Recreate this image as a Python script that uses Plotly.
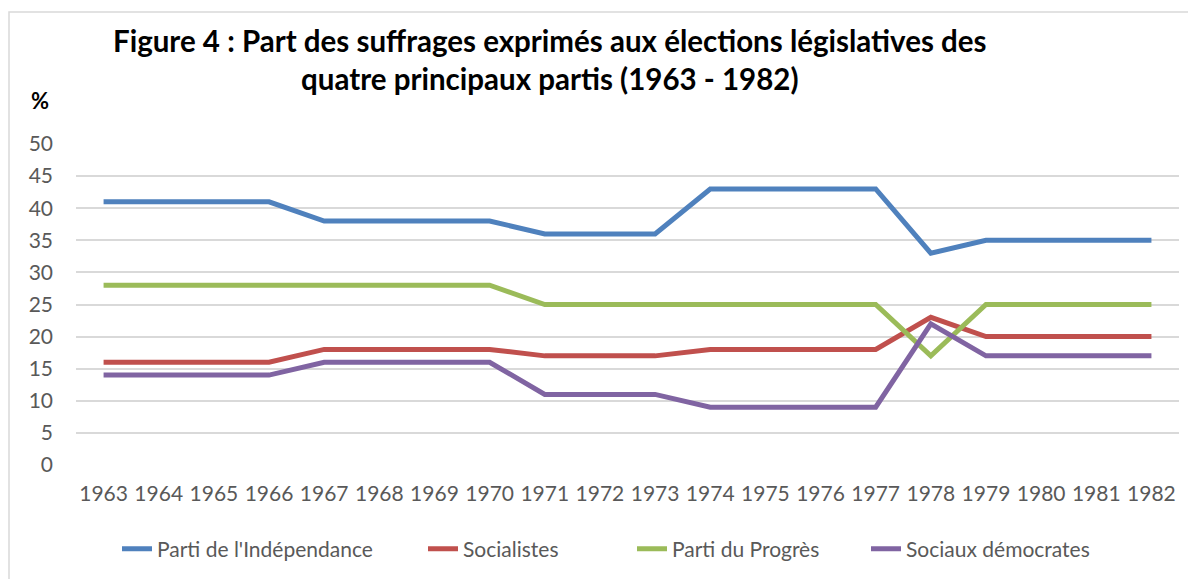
import plotly.graph_objects as go

years = [str(y) for y in range(1963, 1983)]
independance = [41, 41, 41, 41, 38, 38, 38, 38, 36, 36, 36, 43, 43, 43, 43, 33, 35, 35, 35, 35]
socialistes = [16, 16, 16, 16, 18, 18, 18, 18, 17, 17, 17, 18, 18, 18, 18, 23, 20, 20, 20, 20]
progres = [28, 28, 28, 28, 28, 28, 28, 28, 25, 25, 25, 25, 25, 25, 25, 17, 25, 25, 25, 25]
sociaux_dem = [14, 14, 14, 14, 16, 16, 16, 16, 11, 11, 11, 9, 9, 9, 9, 22, 17, 17, 17, 17]

series_names = ["Parti de l'Indépendance", "Socialistes", "Parti du Progrès", "Sociaux démocrates"]
series_values = [independance, socialistes, progres, sociaux_dem]
colors = ["#4F81BD", "#C0504D", "#9BBB59", "#8064A2"]
legend_left_px = [117, 423, 632, 866]

# page body has an 8px default margin: work in screen pixels, convert to figure pixels
OFF = 8
W, H = 1196 - OFF, 579 - OFF
# plot area in screen pixels: x 76..1179, y 144..465
PX0, PX1, PY0, PY1 = 76, 1179, 144, 465
L, T = PX0 - OFF, PY0 - OFF
R, B = W - (PX1 - OFF), H - (PY1 - OFF)
pw, ph = PX1 - PX0, PY1 - PY0

def px_x(x):
    return (x - PX0) / pw

def px_y(y):
    return (PY1 - y) / ph

FONT = "Lato"
TXT = "#595959"
fig = go.Figure()
legend_layouts = {}
for i, (name, vals, c) in enumerate(zip(series_names, series_values, colors)):
    lg = "legend" if i == 0 else f"legend{i+1}"
    fig.add_trace(go.Scatter(x=years, y=vals, name=name, mode="lines",
                             line=dict(color=c, width=5), legend=lg))
    legend_layouts[lg] = dict(orientation="h", x=px_x(legend_left_px[i]), xanchor="left",
                              y=px_y(549), yanchor="middle",
                              font=dict(size=21, color=TXT, family=FONT),
                              bgcolor="rgba(0,0,0,0)", borderwidth=0)

fig.update_layout(
    width=W, height=H,
    margin=dict(l=L, r=R, t=T, b=B, autoexpand=False),
    paper_bgcolor="white", plot_bgcolor="white",
    font=dict(family=FONT, color=TXT, size=21),
    showlegend=True,
    xaxis=dict(type="category", range=[-0.5, 19.5], showgrid=False, showline=False,
               ticks="", ticklabelstandoff=14, tickfont=dict(size=21, color=TXT), automargin=False),
    yaxis=dict(range=[0, 50], dtick=5, showgrid=True, gridcolor="#D9D9D9", gridwidth=1.5,
               zeroline=False, showline=False, ticks="", ticklabelstandoff=22,
               tickfont=dict(size=21, color=TXT), automargin=False),
    annotations=[
        dict(text="<b>Figure 4 : Part des suffrages exprimés aux élections législatives des<br>quatre principaux partis (1963 - 1982)</b>",
             xref="paper", yref="paper", x=px_x(550), y=px_y(60), xanchor="center", yanchor="middle",
             showarrow=False, align="center", font=dict(family=FONT, size=29.5, color="#000000")),
        dict(text="<b>%</b>", xref="paper", yref="paper", x=px_x(40), y=px_y(100),
             xanchor="center", yanchor="middle", showarrow=False,
             font=dict(family=FONT, size=22, color="#000000")),
    ],
    shapes=[
        dict(type="rect", xref="paper", yref="paper", x0=px_x(9), x1=px_x(1230), y0=px_y(620), y1=px_y(12),
             line=dict(color="#D9D9D9", width=1.5), fillcolor="rgba(0,0,0,0)", layer="below"),
    ],
    **legend_layouts,
)

fig.write_html("out.html")
